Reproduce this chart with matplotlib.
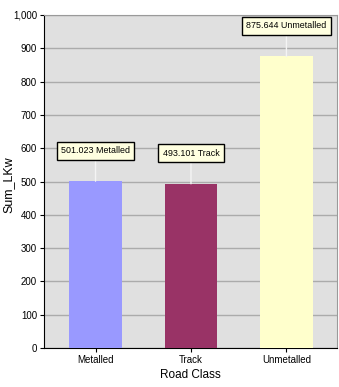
import matplotlib.pyplot as plt
from matplotlib.ticker import FuncFormatter

categories = ["Metalled", "Track", "Unmetalled"]
values = [501.023, 493.101, 875.644]
bar_colors = ["#9999ff", "#993366", "#ffffcc"]

plt.rcParams['font.family'] = ['Liberation Sans', 'DejaVu Sans']

fig = plt.figure(figsize=(3.39, 3.87), dpi=100)
ax = fig.add_axes([44 / 339, 1 - 348 / 387, 293 / 339, 333 / 387])
ax.set_facecolor("#e0e0e0")

x = list(range(len(categories)))
ax.bar(x, values, width=0.55, color=bar_colors, zorder=3)

ax.set_ylim(0, 1000)
ax.set_xlim(-0.54, 2.53)
ax.set_yticks(range(0, 1001, 100))
ax.yaxis.set_major_formatter(FuncFormatter(lambda v, p: "{:,.0f}".format(v)))
ax.set_xticks(x)
ax.set_xticklabels(categories)
ax.grid(axis="y", color="#ababab", linewidth=1, zorder=1)
ax.tick_params(axis="both", labelsize=7, length=3, width=0.8, pad=2)

for side in ["top", "right"]:
    ax.spines[side].set_color("#9a9a9a")
for side in ["left", "bottom"]:
    ax.spines[side].set_color("black")

ax.set_ylabel("Sum_LKw", fontsize=9)
ax.yaxis.set_label_coords(-0.1, 0.49)
ax.set_xlabel("Road Class", fontsize=8.5, labelpad=3)

# value callouts with a leader line up from each bar
for xi, v, name in zip(x, values, categories):
    ax.annotate("{:.3f} {}".format(v, name), xy=(xi, v), xytext=(0, 22),
                textcoords="offset points", ha="center", va="center",
                fontsize=6.4, zorder=5,
                bbox=dict(boxstyle="square,pad=0.5", fc="#ffffe0", ec="black", lw=1),
                arrowprops=dict(arrowstyle="-", color="#f4f4f4", lw=1,
                                shrinkA=0, shrinkB=0))

fig.savefig("out.png", dpi=100)
